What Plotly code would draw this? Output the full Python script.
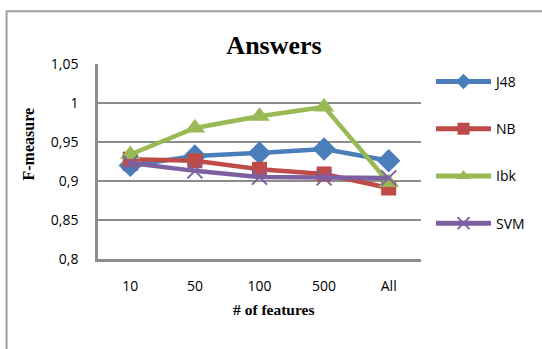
import plotly.graph_objects as go

# Feature counts on the x axis
features = ["10", "50", "100", "500", "All"]

# F-measure per classifier
j48 = [0.920, 0.932, 0.936, 0.941, 0.926]
nb = [0.928, 0.926, 0.915, 0.909, 0.891]
ibk = [0.934, 0.968, 0.983, 0.995, 0.898]
svm = [0.923, 0.913, 0.905, 0.904, 0.904]

y_ticks = [0.8, 0.85, 0.9, 0.95, 1.0, 1.05]
y_tick_labels = ["0,8", "0,85", "0,9", "0,95", "1", "1,05"]

series = [
    ("J48", j48, "#4a7ebb", "diamond", 18),
    ("NB", nb, "#be4b48", "square", 15),
    ("Ibk", ibk, "#98b954", "triangle-up", 18),
    ("SVM", svm, "#7d60a0", "x-thin", 15),
]

fig = go.Figure()
for i, (name, vals, color, symbol, size) in enumerate(series):
    marker = dict(symbol=symbol, size=size, color=color)
    if symbol == "x-thin":
        marker["line"] = dict(color=color, width=2)
    fig.add_trace(go.Scatter(
        x=features, y=vals, name=name, mode="lines+markers",
        line=dict(color=color, width=4.5),
        marker=marker,
        legendgroup=f"g{i}",
    ))

fig.update_layout(
    width=542, height=349,
    margin=dict(l=98, r=119, t=64, b=90),
    paper_bgcolor="white", plot_bgcolor="white",
    title=dict(text="<b>Answers</b>", x=0.545, xref="paper", xanchor="center",
               y=0.87, yanchor="middle",
               font=dict(family="Liberation Serif", size=26, color="black")),
    showlegend=True,
    legend=dict(x=1.031, y=0.99, xanchor="left", yanchor="top",
                font=dict(family="Open Sans", size=14, color="black"),
                tracegroupgap=26, itemwidth=55, itemsizing="constant"),
    font=dict(family="Open Sans", size=14, color="black"),
)

fig.update_xaxes(
    range=[-0.5, 4.5],
    showline=True, linecolor="#8c8c8c", linewidth=2.5,
    showgrid=False, ticks="", ticklabelstandoff=12,
    tickfont=dict(family="Open Sans", size=14),
)
fig.update_yaxes(
    range=[0.8, 1.05], tickvals=y_ticks, ticktext=y_tick_labels,
    showline=True, linecolor="#8c8c8c", linewidth=2.5,
    showgrid=True, gridcolor="#8c8c8c", gridwidth=2,
    zeroline=False, ticks="", ticklabelstandoff=14,
    tickfont=dict(family="Open Sans", size=14),
)

# Axis titles
fig.add_annotation(text="<b># of features</b>", xref="paper", yref="paper",
                   x=0.545, y=-0.26, xanchor="center", yanchor="middle",
                   showarrow=False,
                   font=dict(family="Liberation Serif", size=15.5, color="black"))
fig.add_annotation(text="<b>F-measure</b>", xref="paper", yref="paper",
                   x=-0.215, y=0.59, xanchor="center", yanchor="middle",
                   textangle=-90, showarrow=False,
                   font=dict(family="Liberation Serif", size=16, color="black"))

# Outer frame around the chart
fig.add_shape(type="rect", xref="paper", yref="paper",
              x0=-0.283, x1=1.6, y0=-0.6, y1=1.27,
              line=dict(color="#a0a0a0", width=2), fillcolor="rgba(0,0,0,0)",
              layer="below")

fig.write_html("out.html")
